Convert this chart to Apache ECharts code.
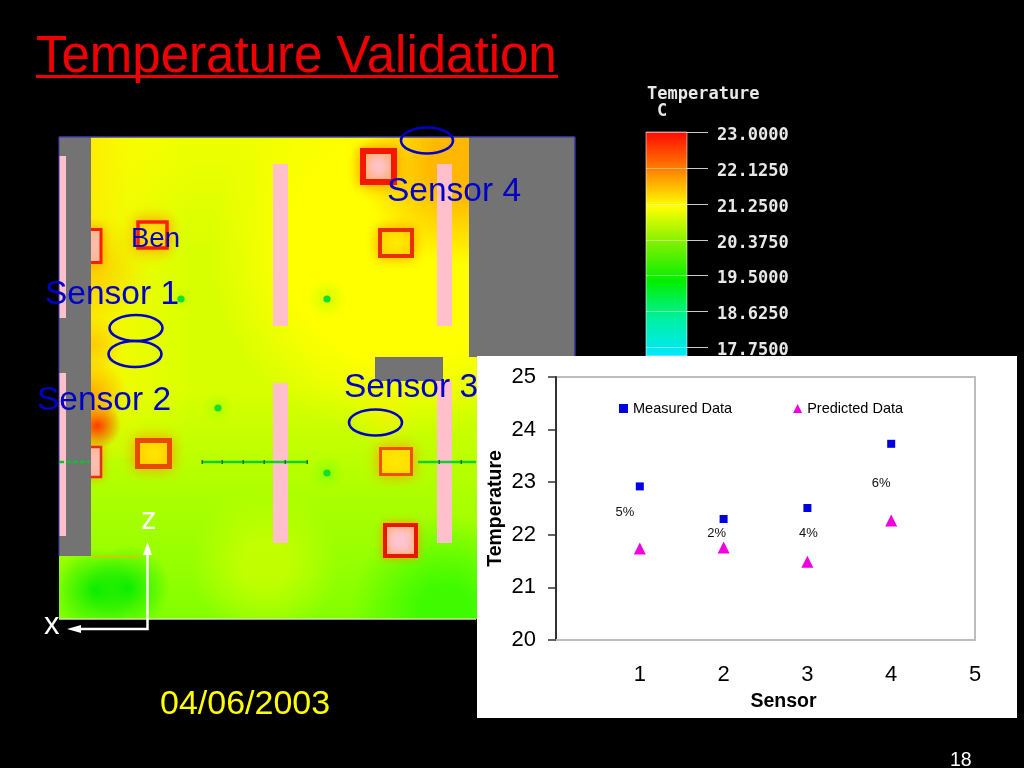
<!DOCTYPE html>
<html><head><meta charset="utf-8">
<style>html,body{margin:0;padding:0;background:#000}#c{width:1024px;height:768px}</style>
<script src="https://cdn.jsdelivr.net/npm/echarts@6/dist/echarts.min.js"></script>
</head><body><div id="c"></div>
<script>
const sensors = [1, 2, 3, 4];
const measured = [22.92, 22.30, 22.51, 23.73];
const predicted = [21.74, 21.76, 21.49, 22.27];
const errorLabels = ['5%', '2%', '4%', '6%'];
const scaleLabels = ['23.0000', '22.1250', '21.2500', '20.3750', '19.5000', '18.6250', '17.7500'];
const sensorNames = ['Sensor 1', 'Sensor 2', 'Sensor 3', 'Sensor 4'];

const labelOffsets = [[-15, 26], [-7, 14], [1, 25], [-10, 40]];
const FONT = '"Liberation Sans", Arial, sans-serif';
const MONO = 'bold 17px "DejaVu Sans Mono", monospace';
const PANEL = {l: 59, t: 137, r: 575, b: 619};
const g = [];

function rect(x, y, w, h, fill, extra) {
  g.push(Object.assign({type: 'rect', shape: {x, y, width: w, height: h}, style: {fill}, silent: true}, extra || {}));
}
function glow(cx, cy, r, rgb, a, flat) {
  const x0 = Math.max(cx - r, PANEL.l), y0 = Math.max(cy - r, PANEL.t);
  const x1 = Math.min(cx + r, PANEL.r), y1 = Math.min(cy + r, PANEL.b);
  const stops = flat
    ? [{offset: 0, color: `rgba(${rgb},${a})`}, {offset: flat, color: `rgba(${rgb},${a})`}, {offset: 1, color: `rgba(${rgb},0)`}]
    : [{offset: 0, color: `rgba(${rgb},${a})`}, {offset: .5, color: `rgba(${rgb},${a * .5})`}, {offset: 1, color: `rgba(${rgb},0)`}];
  rect(x0, y0, x1 - x0, y1 - y0, {type: 'radial', x: cx, y: cy, r, global: true, colorStops: stops});
}
function grad(x, y, w, h, vertical, stops) {
  rect(x, y, w, h, {type: 'linear', x: 0, y: 0, x2: vertical ? 0 : 1, y2: vertical ? 1 : 0,
    colorStops: stops.map(s => ({offset: s[0], color: s[1]}))});
}
function hot(x, y, w, h, fill, stroke, lw, blur, halo) {
  rect(x, y, w, h, fill, {style: {fill, stroke, lineWidth: lw, shadowBlur: blur, shadowColor: halo || 'rgba(255,150,0,.85)'}});
}
function text(t, x, base, size, fill) {
  g.push({type: 'text', x, y: base - size * .76, silent: true, style: {text: t, fill, font: `${size}px ${FONT}`}});
}
function mono(t, x, y) {
  g.push({type: 'text', silent: true, x, y, style: {text: t, fill: '#e8e8e8', font: MONO}});
}
function ell(cx, cy, rx, ry) {
  g.push({type: 'ellipse', silent: true, shape: {cx, cy, rx, ry}, style: {fill: 'none', stroke: '#0000c8', lineWidth: 2.6}});
}

/* temperature field */
rect(59, 137, 516, 482, '#d8ff00');
grad(91, 137, 380, 110, true, [[0, 'rgba(255,255,0,.6)'], [1, 'rgba(255,255,0,0)']]);
grad(91, 137, 100, 320, false, [[0, 'rgba(255,235,0,.9)'], [.4, 'rgba(255,250,0,.55)'], [1, 'rgba(255,255,0,0)']]);
glow(400, 250, 190, '255,255,0', 1, .6);
grad(59, 390, 516, 229, true, [[0, 'rgba(170,255,0,0)'], [.45, 'rgba(165,255,0,.85)'], [1, 'rgba(125,255,0,.95)']]);
glow(265, 565, 75, '215,255,0', .65, .3);
glow(95, 590, 42, '0,235,0', .9);
glow(128, 588, 42, '0,235,0', .9);
glow(445, 610, 95, '50,250,0', .85, .25);
glow(460, 165, 100, '255,175,0', .9, .3);
glow(385, 415, 32, '255,240,0', .6);
glow(97, 425, 24, '255,50,0', 1);
glow(93, 395, 34, '255,160,0', .85);
glow(93, 345, 30, '255,185,0', .65);
glow(93, 270, 55, '255,185,0', .6);
glow(150, 235, 34, '255,210,0', .6);
glow(380, 170, 34, '255,190,0', .5);
glow(181, 299, 12, '170,255,0', .5);
glow(327, 299, 20, '170,255,0', .5);
glow(218, 408, 16, '150,255,0', .5);
glow(327, 473, 18, '110,255,0', .5);

/* hot boxes */
hot(138, 222, 29, 26, '#ffea00', '#f52000', 3.5, 12);
hot(137.5, 440.5, 32, 26, '#ffee00', '#e84b00', 5, 14);
hot(363, 151, 31, 31, '#ffc4cf', '#f41800', 6, 12);
hot(380, 230, 32, 26, '#ffee00', '#e83000', 4, 12);
hot(380.5, 448.5, 31, 26, '#ffee00', '#f05000', 3, 14);
hot(385, 525, 31, 31, '#ffc4cf', '#e81800', 4, 8);
hot(88, 229.5, 13, 33, '#ffc4cf', '#f52000', 3, 10);
hot(88, 447, 13, 30, '#ffc4cf', '#e03018', 2.5, 8);

/* solid blocks */
rect(59, 137, 32, 419, '#737373');
rect(469, 137, 106, 220, '#737373');
rect(375, 357, 68, 24, '#737373');
g.push({type: 'line', silent: true, shape: {x1: 91, y1: 556.5, x2: 140, y2: 556.5}, style: {stroke: 'rgba(255,180,0,.7)', lineWidth: 2}});
[[59, 156, 7, 162], [59, 373, 7, 163], [273, 164, 15, 162], [273, 383, 15, 160], [437, 164, 15, 162], [437, 381, 15, 162]]
  .forEach(r => rect(r[0], r[1], r[2], r[3], '#ffc0cc'));
g.push({type: 'line', silent: true, shape: {x1: 59, y1: 137, x2: 575, y2: 137}, style: {stroke: '#4040b0', lineWidth: 1.5}});
g.push({type: 'line', silent: true, shape: {x1: 575, y1: 137, x2: 575, y2: 357}, style: {stroke: '#3030a0', lineWidth: 1.5}});
g.push({type: 'line', silent: true, shape: {x1: 59, y1: 137, x2: 59, y2: 556}, style: {stroke: '#4040b0', lineWidth: 1}});
g.push({type: 'line', silent: true, shape: {x1: 59, y1: 619, x2: 476, y2: 619}, style: {stroke: '#d0e890', lineWidth: 1.5}});

/* monitor lines and points */
[[202, 307], [418, 476]].forEach(s => g.push({type: 'line', silent: true, shape: {x1: s[0], y1: 462, x2: s[1], y2: 462}, style: {stroke: '#10d030', lineWidth: 2.5}}));
g.push({type: 'line', silent: true, shape: {x1: 59, y1: 462, x2: 90, y2: 462}, style: {stroke: '#10c030', lineWidth: 2.5, lineDash: [5, 2]}});
[202, 222, 243, 264, 285, 307, 439, 461].forEach(x => rect(x - .5, 460, 1.5, 4, '#207030'));
[[181, 299], [327, 299], [218, 408], [327, 473]].forEach(p =>
  g.push({type: 'circle', silent: true, shape: {cx: p[0], cy: p[1], r: 3.6}, style: {fill: '#10e030'}}));

/* annotations */
ell(136, 328, 26.5, 13); ell(135, 354, 26.5, 13); ell(375.5, 422.5, 26.5, 13); ell(427, 140.5, 26, 13);
text('Ben', 131, 246, 27.5, '#0000c8');
text(sensorNames[0], 45, 303, 33.5, '#0000c8');
text(sensorNames[1], 37, 409, 33.5, '#0000c8');
text(sensorNames[2], 344, 396, 33.5, '#0000c8');
text(sensorNames[3], 387, 200, 33.5, '#0000c8');

/* axes arrow */
g.push({type: 'polyline', silent: true, shape: {points: [[147.5, 552], [147.5, 629], [78, 629]]}, style: {fill: 'none', stroke: '#fff', lineWidth: 2.5}});
g.push({type: 'polygon', silent: true, shape: {points: [[147.5, 542], [143, 555], [152, 555]]}, style: {fill: '#fff'}});
g.push({type: 'polygon', silent: true, shape: {points: [[67, 629], [81, 625], [81, 633]]}, style: {fill: '#fff'}});
text('z', 141, 529, 31, '#fff');
text('x', 44, 634, 31, '#fff');

/* colour scale */
grad(646, 132, 41, 224, true, [[0, '#ff0a00'], [1 / 6, '#ff8000'], [2 / 6, '#ffff00'], [3 / 6, '#7cf000'], [4 / 6, '#00f000'], [5 / 6, '#00f0a0'], [1, '#00e8ff']]);
g.push({type: 'rect', silent: true, shape: {x: 646, y: 132, width: 41, height: 224}, style: {fill: 'none', stroke: 'rgba(255,255,255,.55)', lineWidth: 1}});
const tickY = [132, 168, 204, 240, 275, 311, 347];
scaleLabels.forEach((t, i) => {
  g.push({type: 'line', silent: true, shape: {x1: 646, y1: tickY[i] + .5, x2: 687, y2: tickY[i] + .5}, style: {stroke: 'rgba(255,255,255,.4)', lineWidth: 1}});
  g.push({type: 'line', silent: true, shape: {x1: 687, y1: tickY[i] + .5, x2: 708, y2: tickY[i] + .5}, style: {stroke: 'rgba(225,225,225,.9)', lineWidth: 1}});
  mono(t, 717, tickY[i] - 5);
});
mono('Temperature', 647, 86);
mono('C', 657, 103);

/* chart panel */
rect(477, 356, 540, 362, '#fff');

/* slide text */
text('Temperature Validation', 36, 71, 51, '#f00000');
rect(36, 75, 522, 3, '#f00000');
text('04/06/2003', 160, 713, 34, '#ffff00');
text('18', 950, 765, 19.5, '#fff');

const chart = echarts.init(document.getElementById('c'), null, {renderer: 'canvas'});
chart.setOption({
  backgroundColor: '#000',
  animation: false,
  textStyle: {fontFamily: FONT},
  graphic: g,
  grid: {show: true, z: 5, left: 556, top: 377, width: 419, height: 263, backgroundColor: 'transparent', borderColor: '#bdbdbd', borderWidth: 2},
  legend: {z: 7, left: 614, top: 396, itemWidth: 9, itemHeight: 9, itemGap: 61, selectedMode: false,
    textStyle: {fontSize: 14.5, color: '#000', fontFamily: FONT},
    data: [{name: 'Measured Data', icon: 'rect'}, {name: 'Predicted Data', icon: 'triangle'}]},
  xAxis: {type: 'value', z: 5, min: 0, max: 5, interval: 1, splitLine: {show: false},
    axisLine: {onZero: false, lineStyle: {color: '#bdbdbd', width: 2}}, axisTick: {show: false},
    axisLabel: {fontSize: 22, color: '#000', margin: 24, fontFamily: FONT, formatter: v => v === 0 ? '' : v},
    name: 'Sensor', nameLocation: 'middle', nameGap: 52, nameTextStyle: {fontSize: 19.5, fontWeight: 'bold', color: '#000', fontFamily: FONT, padding: [0, 0, 0, 36]}},
  yAxis: {type: 'value', z: 5, min: 20, max: 25, interval: 1, splitLine: {show: false},
    axisLine: {show: true, onZero: false, lineStyle: {color: '#333', width: 2}},
    axisTick: {show: true, length: 8, lineStyle: {color: '#333', width: 1.5}},
    axisLabel: {fontSize: 22, color: '#000', margin: 20, padding: [4, 0, 0, 0], fontFamily: FONT},
    name: 'Temperature', nameLocation: 'middle', nameGap: 50, nameTextStyle: {fontSize: 19.5, fontWeight: 'bold', color: '#000', fontFamily: FONT}},
  series: [
    {name: 'Measured Data', type: 'scatter', z: 6, symbol: 'rect', symbolSize: 8, itemStyle: {color: '#0000e0', opacity: 1},
      data: sensors.map((s, i) => ({value: [s, measured[i]],
        label: {show: true, position: 'inside', offset: labelOffsets[i], formatter: errorLabels[i], fontSize: 13, color: '#111', fontFamily: FONT}}))},
    {name: 'Predicted Data', type: 'scatter', z: 6, symbol: 'triangle', symbolSize: 12, itemStyle: {color: '#f000e0', opacity: 1},
      data: sensors.map((s, i) => [s, predicted[i]])}
  ]
});
</script></body></html>
